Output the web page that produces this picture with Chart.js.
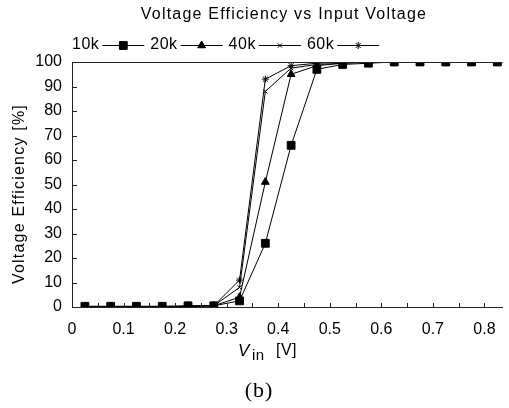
<!DOCTYPE html>
<html>
<head>
<meta charset="utf-8">
<script src="https://cdn.jsdelivr.net/npm/chart.js@4.4.0/dist/chart.umd.min.js"></script>
<style>
  html, body { margin: 0; padding: 0; background: #fff; }
  #wrap { width: 509px; height: 408px; position: relative; }
</style>
</head>
<body>
<div id="wrap"><canvas id="effChart" width="509" height="408"></canvas></div>
<script>
// Input voltage (V) at each measured point
const vin = [0.025, 0.075, 0.125, 0.175, 0.225, 0.275, 0.325, 0.375, 0.425, 0.475, 0.525, 0.575, 0.625, 0.675, 0.725, 0.775, 0.825];

// Voltage efficiency (%) per load
const eff10k = [0.3, 0.3, 0.3, 0.3, 0.5, 0.5, 2.5, 26, 66, 97, 99, 99.5, 100, 100, 100, 100, 100];
const eff20k = [0, 0, 0, 0, 0.3, 0.5, 4, 51, 95, 98.5, 99.5, 100, 100, 100, 100, 100, 100];
const eff40k = [0, 0, 0, 0, 0.3, 0.5, 8, 88, 97.5, 99, 99.5, 100, 100, 100, 100, 100, 100];
const eff60k = [0, 0, 0, 0, 0.3, 0.5, 11, 93, 98.5, 99.5, 100, 100, 100, 100, 100, 100, 100];

const loadLabels = ['10k', '20k', '40k', '60k'];
const yTicks = [0, 10, 20, 30, 40, 50, 60, 70, 80, 90, 100];
const xTicks = [0, 0.05, 0.1, 0.15, 0.2, 0.25, 0.3, 0.35, 0.4, 0.45, 0.5, 0.55, 0.6, 0.65, 0.7, 0.75, 0.8];
const xLabels = ['0', '0.1', '0.2', '0.3', '0.4', '0.5', '0.6', '0.7', '0.8'];

const FONT = '"Liberation Sans", Arial, sans-serif';

const toPoints = ys => vin.map((x, i) => ({ x: x, y: ys[i] }));

const series = [
  { label: loadLabels[0], data: toPoints(eff10k), pointStyle: 'rect', pointRadius: 5.5 },
  { label: loadLabels[1], data: toPoints(eff20k), pointStyle: 'triangle', pointRadius: 4.5 },
  { label: loadLabels[2], data: toPoints(eff40k), pointStyle: 'crossRot', pointRadius: 3 },
  { label: loadLabels[3], data: toPoints(eff60k), pointStyle: 'star', pointRadius: 3.5 }
].map(s => Object.assign(s, {
  borderColor: '#000',
  backgroundColor: '#000',
  pointBorderColor: '#000',
  pointBackgroundColor: '#000',
  pointBorderWidth: 1,
  borderWidth: 1,
  tension: 0
}));

// texts, custom legend and inward ticks
const decorations = {
  id: 'decorations',
  afterDraw(chart) {
    const ctx = chart.ctx;
    const area = chart.chartArea;
    const xs = chart.scales.x, ys = chart.scales.y;
    ctx.save();
    ctx.strokeStyle = '#222';
    ctx.lineWidth = 1;

    // top border of plot
    ctx.beginPath();
    ctx.moveTo(area.left, Math.round(area.top) + 0.5);
    ctx.lineTo(area.right, Math.round(area.top) + 0.5);
    ctx.stroke();

    // inward ticks on x
    xTicks.slice(1).forEach(v => {
      const px = Math.round(xs.getPixelForValue(v)) + 0.5;
      ctx.beginPath();
      ctx.moveTo(px, area.bottom);
      ctx.lineTo(px, area.bottom - 4);
      ctx.stroke();
    });
    // inward ticks on y
    yTicks.slice(1, -1).forEach(v => {
      const py = Math.round(ys.getPixelForValue(v)) + 0.5;
      ctx.beginPath();
      ctx.moveTo(area.left, py);
      ctx.lineTo(area.left + 5, py);
      ctx.stroke();
    });

    ctx.fillStyle = '#000';
    ctx.textBaseline = 'middle';

    // title
    ctx.font = '16px ' + FONT;
    ctx.letterSpacing = '1.2px';
    ctx.textAlign = 'center';
    ctx.fillText('Voltage Efficiency vs Input Voltage', 284, 15);

    // legend: label then line sample with marker
    ctx.letterSpacing = '0.5px';
    ctx.textAlign = 'left';
    let lx = 72;
    chart.data.datasets.forEach(ds => {
      ctx.fillStyle = '#000';
      ctx.fillText(ds.label, lx, 45);
      const w = ctx.measureText(ds.label).width;
      const x0 = lx + w + 3, x1 = x0 + 42;
      ctx.beginPath();
      ctx.moveTo(x0, 45.5);
      ctx.lineTo(x1, 45.5);
      ctx.strokeStyle = '#000';
      ctx.stroke();
      Chart.helpers.drawPoint(ctx, {
        pointStyle: ds.pointStyle,
        radius: ds.pointRadius,
        borderWidth: 1,
        rotation: 0
      }, (x0 + x1) / 2, 45.5);
      ctx.fill();
      lx = x1 + 6;
    });

    // y axis title
    ctx.save();
    ctx.translate(20, 194);
    ctx.rotate(-Math.PI / 2);
    ctx.textAlign = 'center';
    ctx.font = '16px ' + FONT;
    ctx.letterSpacing = '1.2px';
    ctx.fillText('Voltage Efficiency [%]', 0, 0);
    ctx.restore();

    // x axis title: V_in [V]
    ctx.letterSpacing = '0.5px';
    ctx.textAlign = 'left';
    ctx.font = 'italic 17px ' + FONT;
    ctx.fillText('V', 238, 351);
    ctx.font = '15px ' + FONT;
    ctx.fillText('in', 252, 356);
    ctx.font = '16px ' + FONT;
    ctx.fillText('[V]', 276, 351);

    // caption
    ctx.textAlign = 'center';
    ctx.letterSpacing = '1px';
    ctx.font = '22px "Liberation Serif", "Times New Roman", serif';
    ctx.fillText('(b)', 259, 391);
    ctx.restore();
  }
};

const ctx = document.getElementById('effChart').getContext('2d');
new Chart(ctx, {
  type: 'line',
  data: { datasets: series },
  options: {
    responsive: false,
    animation: false,
    layout: { padding: { top: 62, right: 4, left: 0, bottom: 0 } },
    plugins: {
      legend: { display: false },
      title: { display: false },
      tooltip: { enabled: false }
    },
    scales: {
      x: {
        type: 'linear',
        min: 0,
        max: 0.835,
        grid: { display: false, drawTicks: false },
        border: { display: true, color: '#222', width: 1 },
        afterFit: s => { s.height = 408 - 307; },
        afterBuildTicks: s => { s.ticks = xLabels.map(t => ({ value: parseFloat(t) })); },
        ticks: {
          autoSkip: false,
          maxRotation: 0,
          padding: 13,
          color: '#000',
          font: { family: FONT, size: 16 },
          callback: (v, i) => xLabels[i]
        }
      },
      y: {
        min: 0,
        max: 100,
        grid: { display: false, drawTicks: false },
        border: { display: true, color: '#222', width: 1 },
        afterFit: s => { s.width = 72; },
        afterBuildTicks: s => { s.ticks = yTicks.map(v => ({ value: v })); },
        ticks: {
          padding: 10,
          color: '#000',
          font: { family: FONT, size: 16 }
        }
      }
    }
  },
  plugins: [decorations]
});
</script>
</body>
</html>
